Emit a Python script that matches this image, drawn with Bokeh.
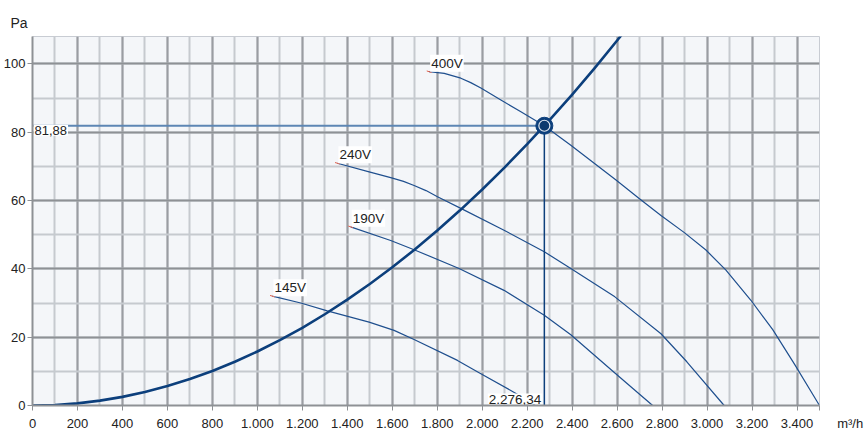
from bokeh.plotting import figure
from bokeh.models import Range1d, SingleIntervalTicker, FixedTicker, CustomJSTickFormatter
from bokeh.core.properties import value
from bokeh.embed import file_html
from bokeh.resources import INLINE

FONT = "Liberation Sans"

# ---- data ----
sys_q = [0, 100, 200, 300, 400, 500, 600, 700, 800, 900, 1000, 1100, 1200, 1300, 1400,
         1500, 1600, 1700, 1800, 1900, 2000, 2100, 2200, 2300, 2400, 2500, 2600, 2650]
sys_p = [0.0, 0.16, 0.63, 1.42, 2.53, 3.95, 5.69, 7.74, 10.11, 12.80, 15.80, 19.12, 22.75,
         26.71, 30.97, 35.55, 40.45, 45.67, 51.20, 57.05, 63.21, 69.69, 76.48, 83.59,
         91.02, 98.76, 106.82, 110.97]

fan_400_q = [1764, 1831, 1905, 1949, 1994, 2083, 2172, 2276, 2394, 2595, 2698, 2795, 2899, 2995, 3084, 3195, 3292, 3388, 3500]
fan_400_p = [97.7, 97.2, 95.8, 94.5, 92.9, 89.4, 86.0, 81.9, 76.2, 66.0, 60.6, 55.6, 50.6, 45.5, 39.6, 30.8, 22.2, 12.2, 0.0]

fan_240_q = [1356, 1497, 1593, 1650, 1697, 1750, 1801, 1905, 2097, 2276, 2394, 2590, 2795, 2910, 3076]
fan_240_p = [70.9, 68.4, 66.7, 65.6, 64.4, 62.9, 61.1, 57.7, 51.3, 45.0, 40.1, 31.8, 21.0, 12.8, 0.0]

fan_190_q = [1415, 1593, 1697, 1897, 2097, 2276, 2394, 2590, 2758]
fan_190_p = [52.3, 48.3, 45.6, 40.1, 33.7, 26.4, 20.7, 9.5, 0.0]

fan_145_q = [1067, 1193, 1311, 1497, 1608, 1697, 1890, 1994, 2127, 2216, 2235]
fan_145_p = [32.0, 30.0, 27.7, 24.4, 22.0, 19.3, 13.2, 9.3, 4.4, 1.0, 0.0]

fan_labels = ["400V", "240V", "190V", "145V"]

op_q = 2276.34
op_p = 81.88
op_q_label = "2.276,34"
op_p_label = "81,88"

x_ticks = [0, 200, 400, 600, 800, 1000, 1200, 1400, 1600, 1800, 2000, 2200, 2400,
           2600, 2800, 3000, 3200, 3400, 3500]
x_unit = "m³/h"
y_unit = "Pa"

# ---- figure ----
p = figure(width=865, height=434, output_backend="svg", toolbar_location=None,
           x_range=Range1d(0, 3500), y_range=Range1d(0, 108),
           min_border_left=32, min_border_right=46, min_border_top=36, min_border_bottom=29,
           title=y_unit)
p.background_fill_color = "#f4f6f9"
p.border_fill_color = "white"
p.outline_line_color = "#c8ccd3"
p.outline_line_width = 1

p.title.align = "left"
p.title.offset = -22
p.title.standoff = 11
p.title.text_font = FONT
p.title.text_font_size = "14px"
p.title.text_font_style = "normal"
p.title.text_color = "#222222"

p.xaxis.ticker = FixedTicker(ticks=x_ticks, minor_ticks=[])
p.yaxis.ticker = SingleIntervalTicker(interval=20, num_minor_ticks=2)
p.xgrid.ticker = SingleIntervalTicker(interval=200, num_minor_ticks=2)
p.ygrid.ticker = SingleIntervalTicker(interval=20, num_minor_ticks=2)

p.xaxis.formatter = CustomJSTickFormatter(code="""
const s = Math.round(tick).toString();
return s.replace(/\\B(?=(\\d{3})+(?!\\d))/g, '.');
""")
# unit text sits right of the last tick label, on the same line
p.xaxis.major_label_overrides = {x_ticks[-1]: "\u00a0" * 17 + x_unit}

for g, major in ((p.xgrid, "#9a9da2"), (p.ygrid, "#8e9195")):
    g.grid_line_color = major
    g.grid_line_width = 2
    g.minor_grid_line_color = "#c6cacf"
    g.minor_grid_line_width = 2

for ax in (p.xaxis, p.yaxis):
    ax.axis_line_color = "#8e9195"
    ax.axis_line_width = 2
    ax.major_tick_line_color = "#8e9195"
    ax.major_tick_line_width = 1
    ax.major_tick_in = 0
    ax.minor_tick_line_color = None
    ax.major_label_text_font = FONT
    ax.major_label_text_color = "#222222"
    ax.major_label_text_font_size = "13px"

p.xaxis.major_tick_out = 5
p.xaxis.major_label_standoff = 5
p.yaxis.major_tick_out = 5
p.yaxis.major_label_standoff = 2

# fan curves
fan_col = "#1f4f8e"
for q, pr in ((fan_400_q, fan_400_p), (fan_240_q, fan_240_p), (fan_190_q, fan_190_p), (fan_145_q, fan_145_p)):
    p.line(q, pr, line_color=fan_col, line_width=1.2, line_join="round")

# system curve
p.line(sys_q, sys_p, line_color="#0c3f7c", line_width=2.6, line_join="round")

# operating point guide lines
p.segment(x0=[0], y0=[op_p], x1=[op_q], y1=[op_p], line_color="#5d86b4", line_width=2)
p.segment(x0=[op_q], y0=[0], x1=[op_q], y1=[op_p], line_color="#0c3f7c", line_width=1.5)

# curve start marks and labels
starts_q = [fan_400_q[0], fan_240_q[0], fan_190_q[0], fan_145_q[0]]
starts_p = [fan_400_p[0], fan_240_p[0], fan_190_p[0], fan_145_p[0]]
p.scatter(starts_q, starts_p, marker="dash", size=5, line_color="#e0604c", line_width=1, angle=-0.3)
p.text(x=starts_q, y=starts_p, text=fan_labels, text_font=value(FONT), text_font_size="13.5px",
       text_color="#222222", text_align="left", text_baseline="bottom", x_offset=1,
       background_fill_color="white", padding=1)

p.text(x=[0], y=[op_p], text=[op_p_label], text_font=value(FONT), text_font_size="13px",
       text_color="#222222", text_align="left", text_baseline="top", x_offset=1, y_offset=-1,
       background_fill_color="white", padding=1)
p.text(x=[op_q], y=[0], text=[op_q_label], text_font=value(FONT), text_font_size="13.5px",
       text_color="#222222", text_align="right", text_baseline="bottom", x_offset=-2, y_offset=-1,
       background_fill_color="white", padding=1)

# operating point marker
p.scatter([op_q], [op_p], size=17, fill_color="#0c3f7c", line_color="#0c3f7c")
p.scatter([op_q], [op_p], size=11, fill_color="#0d3a6e", line_color="#dfe6ef", line_width=1.2)

open("out.html", "w").write(file_html(p, INLINE))
